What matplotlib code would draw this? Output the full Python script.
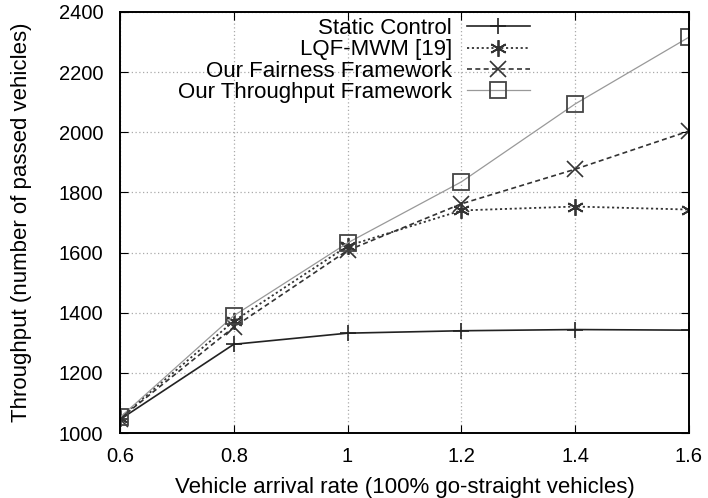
import matplotlib
matplotlib.use("Agg")
import matplotlib.pyplot as plt

plt.rcParams['font.family'] = ['Liberation Sans', 'DejaVu Sans']

# arrival rates and throughput per scheme
rates = [0.6, 0.8, 1.0, 1.2, 1.4, 1.6]
static_ctrl = [1045, 1295, 1332, 1340, 1344, 1342]
lqf_mwm = [1050, 1372, 1622, 1740, 1753, 1743]
fairness = [1048, 1352, 1607, 1762, 1877, 2004]
throughput = [1052, 1390, 1632, 1835, 2094, 2316]

fig = plt.figure(figsize=(7.08, 4.98), dpi=100)
ax = fig.add_axes([0.1695, 0.1305, 0.8035, 0.8455])

ax.plot(rates, static_ctrl, color='#222222', lw=1.2, marker='+', ms=11, mew=1.2,
        label='Static Control')
ax.plot(rates, lqf_mwm, color='#333333', lw=1.3, ls=(0, (1.2, 1.5)), marker=(6, 2, 0),
        ms=12, mew=1.3, label='LQF-MWM [19]')
ax.plot(rates, fairness, color='#333333', lw=1.2, ls=(0, (3, 2)), marker='x', ms=11,
        mew=1.2, label='Our Fairness Framework')
ax.plot(rates, throughput, color='#999999', lw=0.9, ls='-', marker='s', ms=11, mew=1.3,
        mfc='none', mec='#444444', label='Our Throughput Framework')

ax.set_xlim(0.6, 1.6)
ax.set_ylim(1000, 2400)
ax.set_xticks([0.6, 0.8, 1.0, 1.2, 1.4, 1.6])
ax.set_xticklabels(['0.6', '0.8', '1', '1.2', '1.4', '1.6'])
ax.set_yticks(range(1000, 2401, 200))
ax.grid(True, color='#aaaaaa', ls=(0, (1, 2)), lw=0.9)
ax.tick_params(direction='in', top=True, right=True, length=6, labelsize=14.5)
ax.tick_params(axis='x', pad=10)
ax.tick_params(axis='y', pad=12)
for s in ax.spines.values():
    s.set_linewidth(1.4)

ax.set_xlabel('Vehicle arrival rate (100% go-straight vehicles)', fontsize=16, labelpad=8)
ax.set_ylabel('Throughput (number of passed vehicles)', fontsize=16, labelpad=19)

ax.legend(loc='upper right', bbox_to_anchor=(0.72, 0.986), frameon=False, markerfirst=False,
          fontsize=16, handlelength=2.8, labelspacing=0.02, handletextpad=0.7,
          borderpad=0, borderaxespad=0)

fig.savefig('out.png', dpi=100)
